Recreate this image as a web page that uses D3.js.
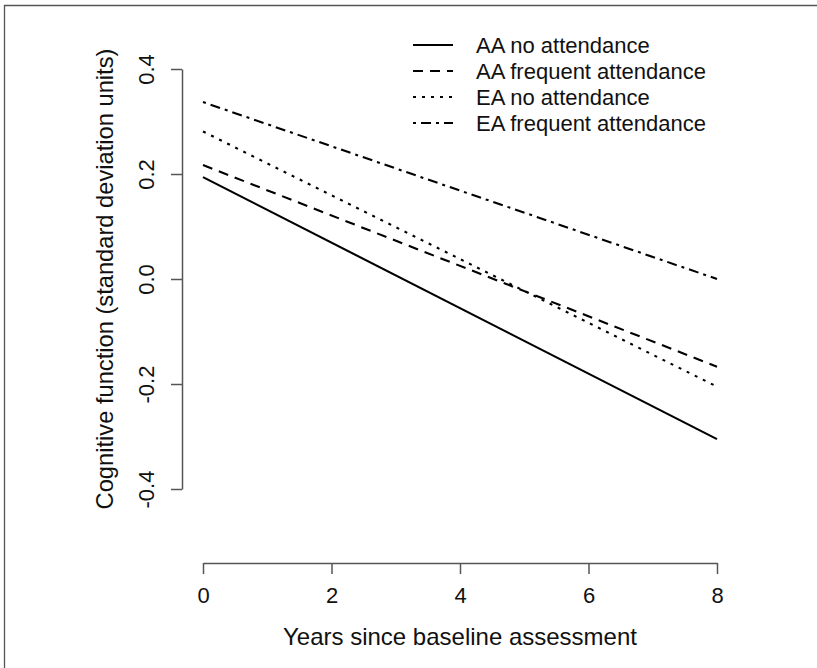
<!DOCTYPE html>
<html>
<head>
<meta charset="utf-8">
<script src="https://cdn.jsdelivr.net/npm/d3@7"></script>
<style>
  html, body { margin: 0; padding: 0; background: #fff; }
  svg { display: block; font-family: "Liberation Sans", Arial, Helvetica, sans-serif; }
</style>
</head>
<body>
<svg id="chart" width="817" height="668"></svg>
<script>
// ---- data ----
const years = [0, 8];
const seriesNames = ["AA no attendance", "AA frequent attendance", "EA no attendance", "EA frequent attendance"];
const aaNoAttendance = [0.194, -0.305];
const aaFrequentAttendance = [0.217, -0.167];
const eaNoAttendance = [0.281, -0.205];
const eaFrequentAttendance = [0.337, 0.000];
const xTicks = [0, 2, 4, 6, 8];
const yTicks = [-0.4, -0.2, 0.0, 0.2, 0.4];
const xTitle = "Years since baseline assessment";
const yTitle = "Cognitive function (standard deviation units)";

// ---- styles ----
const dashStyles = [null, "10,7", "3,6", "3,5,10,5"];
const seriesValues = [aaNoAttendance, aaFrequentAttendance, eaNoAttendance, eaFrequentAttendance];

const svg = d3.select("#chart");
const W = 817, H = 668;
svg.append("rect").attr("width", W).attr("height", H).attr("fill", "#fff");

// partial frame (top + left) as in the reference
svg.append("path")
  .attr("d", `M4.5,${H} L4.5,5.5 L${W},5.5`)
  .attr("fill", "none").attr("stroke", "#555").attr("stroke-width", 1.3);

const x = d3.scaleLinear().domain([0, 8]).range([203, 717]);
const y = d3.scaleLinear().domain([-0.4, 0.4]).range([489, 69]);

const axisColor = "#555";
const textColor = "#111";
const fmtY = d => d3.format(".1f")(d).replace("\u2212", "-");

// x axis
const xAxisG = svg.append("g").attr("transform", "translate(0,563)")
  .call(d3.axisBottom(x).tickValues(xTicks).tickSize(11).tickSizeOuter(0).tickFormat(d3.format("d")));
xAxisG.select(".domain").attr("stroke", axisColor).attr("stroke-width", 1.5);
xAxisG.selectAll(".tick line").attr("stroke", axisColor).attr("stroke-width", 1.5);
xAxisG.selectAll(".tick text")
  .attr("y", 40).attr("dy", null)
  .attr("fill", textColor).attr("font-size", 22)
  .attr("font-family", "Liberation Sans, Arial, sans-serif");

// y axis
const yAxisG = svg.append("g").attr("transform", "translate(182,0)")
  .call(d3.axisLeft(y).tickValues(yTicks).tickSize(11).tickSizeOuter(0).tickFormat(fmtY));
yAxisG.select(".domain").attr("stroke", axisColor).attr("stroke-width", 1.5);
yAxisG.selectAll(".tick line").attr("stroke", axisColor).attr("stroke-width", 1.5);
yAxisG.selectAll(".tick text")
  .attr("x", null).attr("dy", null)
  .attr("text-anchor", "middle")
  .attr("transform", "translate(-28,0) rotate(-90)")
  .attr("fill", textColor).attr("font-size", 22)
  .attr("font-family", "Liberation Sans, Arial, sans-serif");

// axis titles
svg.append("text")
  .attr("x", (x(0) + x(8)) / 2).attr("y", 645)
  .attr("text-anchor", "middle").attr("font-size", 24).attr("fill", textColor)
  .text(xTitle);
svg.append("text")
  .attr("transform", `translate(113,${(y(-0.4) + y(0.4)) / 2}) rotate(-90)`)
  .attr("text-anchor", "middle").attr("font-size", 23.7).attr("fill", textColor)
  .text(yTitle);

// series lines
const line = d3.line().x((d, i) => x(years[i])).y(d => y(d));
seriesValues.forEach((vals, i) => {
  svg.append("path")
    .datum(vals)
    .attr("d", line)
    .attr("fill", "none")
    .attr("stroke", "#000")
    .attr("stroke-width", 2.1)
    .attr("stroke-dasharray", dashStyles[i]);
});

// legend
const legend = svg.append("g");
seriesNames.forEach((name, i) => {
  const ly = 45 + i * 26;
  legend.append("line")
    .attr("x1", 413).attr("x2", 453).attr("y1", ly).attr("y2", ly)
    .attr("stroke", "#000").attr("stroke-width", 2.1)
    .attr("stroke-dasharray", dashStyles[i]);
  legend.append("text")
    .attr("x", 476).attr("y", ly + 7.5)
    .attr("font-size", 22).attr("fill", textColor)
    .text(name);
});
</script>
</body>
</html>
